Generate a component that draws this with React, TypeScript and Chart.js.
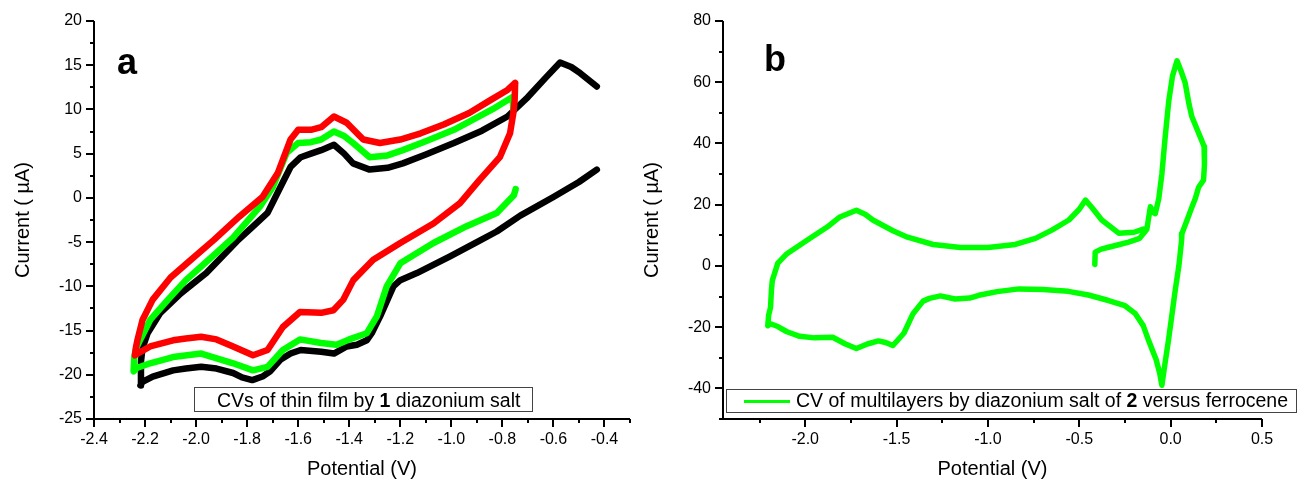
import React, { useEffect, useRef } from 'react';
import { Chart, registerables } from 'chart.js';

Chart.register(...registerables);

const FONT = '"Liberation Sans", Arial, Helvetica, sans-serif';
const H = 479;

// ---------------- Panel a ----------------
const potentialTicksA = [-2.4, -2.2, -2.0, -1.8, -1.6, -1.4, -1.2, -1.0, -0.8, -0.6, -0.4];
const potentialMinorA = [-2.3, -2.1, -1.9, -1.7, -1.5, -1.3, -1.1, -0.9, -0.7, -0.5, -0.3];
const currentTicksA = [-25, -20, -15, -10, -5, 0, 5, 10, 15, 20];
const currentMinorA = [-22.5, -17.5, -12.5, -7.5, -2.5, 2.5, 7.5, 12.5, 17.5];

// [potential (V), current (µA)]
const scanRedA: [number, number][] = [
  [-0.75, 13.0], [-0.752, 11.0], [-0.757, 9.6], [-0.77, 7.3], [-0.81, 4.6], [-0.89, 2.0],
  [-0.966, -0.6], [-1.07, -2.9], [-1.2, -5.1], [-1.306, -7.0], [-1.384, -9.3], [-1.423, -11.5],
  [-1.462, -12.7], [-1.51, -13.0], [-1.593, -12.9], [-1.66, -14.6], [-1.72, -17.2], [-1.777, -17.8],
  [-1.855, -16.8], [-1.92, -16.0], [-1.98, -15.7], [-2.04, -15.9], [-2.09, -16.1], [-2.18, -16.8],
  [-2.23, -17.6], [-2.24, -17.8], [-2.235, -16.8], [-2.23, -16.1], [-2.21, -13.8], [-2.17, -11.5],
  [-2.1, -9.0], [-2.02, -7.0], [-1.93, -4.75], [-1.83, -2.1], [-1.74, 0.1], [-1.68, 2.8],
  [-1.63, 6.6], [-1.6, 7.7], [-1.55, 7.7], [-1.51, 8.0], [-1.46, 9.2], [-1.41, 8.5],
  [-1.345, 6.6], [-1.28, 6.2], [-1.2, 6.6], [-1.12, 7.3], [-1.03, 8.3], [-0.93, 9.6],
  [-0.85, 11.0], [-0.78, 12.2], [-0.75, 13.0],
];

const scanGreenA: [number, number][] = [
  [-0.748, 1.0], [-0.755, 0.3], [-0.822, -1.7], [-0.94, -3.2], [-1.07, -5.1], [-1.2, -7.4],
  [-1.253, -10.0], [-1.292, -13.4], [-1.331, -15.3], [-1.4, -16.0], [-1.45, -16.6], [-1.51, -16.4],
  [-1.593, -16.0], [-1.66, -17.2], [-1.72, -19.1], [-1.777, -19.5], [-1.855, -18.7], [-1.98, -17.6],
  [-2.09, -18.0], [-2.18, -18.7], [-2.23, -19.2], [-2.245, -19.6], [-2.242, -18.0], [-2.235, -17.0],
  [-2.22, -16.1], [-2.18, -13.8], [-2.11, -11.5], [-2.04, -9.3], [-1.92, -6.2], [-1.855, -4.5],
  [-1.75, -1.0], [-1.7, 1.2], [-1.645, 5.1], [-1.6, 6.2], [-1.55, 6.3], [-1.51, 6.6],
  [-1.46, 7.5], [-1.42, 7.0], [-1.385, 6.2], [-1.32, 4.6], [-1.25, 4.8], [-1.19, 5.4],
  [-1.1, 6.4], [-0.99, 7.7], [-0.84, 10.0], [-0.76, 11.4], [-0.757, 10.0],
];

const scanBlackA: [number, number][] = [
  [-0.43, 3.2], [-0.5, 1.8], [-0.6, 0.1], [-0.73, -2.0], [-0.822, -3.8], [-0.9, -5.0],
  [-1.005, -6.6], [-1.135, -8.5], [-1.2, -9.3], [-1.227, -10.0], [-1.25, -11.5], [-1.279, -13.4],
  [-1.31, -15.2], [-1.331, -16.1], [-1.37, -16.6], [-1.41, -16.8], [-1.46, -17.6], [-1.51, -17.4],
  [-1.59, -17.2], [-1.63, -17.6], [-1.67, -18.3], [-1.71, -19.6], [-1.74, -20.2], [-1.78, -20.6],
  [-1.82, -20.3], [-1.855, -19.8], [-1.92, -19.3], [-1.98, -19.1], [-2.04, -19.3], [-2.09, -19.5],
  [-2.17, -20.2], [-2.21, -20.8], [-2.218, -21.2], [-2.216, -18.5], [-2.21, -17.0], [-2.19, -15.3],
  [-2.14, -13.0], [-2.06, -10.8], [-1.96, -8.5], [-1.84, -4.9], [-1.78, -3.3], [-1.72, -1.7],
  [-1.67, 1.2], [-1.63, 3.5], [-1.59, 4.6], [-1.55, 5.0], [-1.51, 5.4], [-1.46, 6.0],
  [-1.42, 5.0], [-1.385, 3.9], [-1.32, 3.2], [-1.25, 3.4], [-1.19, 3.9], [-1.1, 4.9],
  [-0.99, 6.2], [-0.88, 7.6], [-0.78, 9.2], [-0.7, 11.4], [-0.63, 13.6], [-0.574, 15.3],
  [-0.53, 14.8], [-0.495, 14.1], [-0.43, 12.6],
];

// ---------------- Panel b ----------------
const potentialTicksB = [-2.0, -1.5, -1.0, -0.5, 0.0, 0.5];
const potentialMinorB = [-2.25, -1.75, -1.25, -0.75, -0.25, 0.25];
const currentTicksB = [-40, -20, 0, 20, 40, 60, 80];
const currentMinorB = [-50, -30, -10, 10, 30, 50, 70];

const scanB: [number, number][] = [
  [-0.415, 0.5], [-0.413, 4.5], [-0.38, 5.5], [-0.34, 6.1], [-0.28, 7.0], [-0.23, 7.8],
  [-0.17, 9.0], [-0.13, 12.0], [-0.111, 19.3], [-0.095, 17.5], [-0.084, 17.1], [-0.065, 22.0],
  [-0.048, 30.0], [-0.03, 42.0], [-0.01, 54.0], [0.01, 62.0], [0.035, 67.0], [0.055, 64.0],
  [0.08, 59.7], [0.1, 53.0], [0.116, 48.8], [0.135, 46.0], [0.153, 43.4], [0.17, 41.0],
  [0.183, 39.0], [0.185, 33.0], [0.18, 28.0], [0.153, 25.7], [0.135, 22.0], [0.115, 19.0],
  [0.09, 15.0], [0.062, 10.6], [0.06, 8.4], [0.045, 0.0], [0.025, -8.0], [0.007, -16.0],
  [-0.012, -24.3], [-0.03, -31.5], [-0.048, -39.0], [-0.06, -35.0], [-0.08, -30.5], [-0.1, -27.5],
  [-0.121, -24.3], [-0.15, -19.5], [-0.193, -15.6], [-0.25, -13.0], [-0.34, -11.3], [-0.45, -9.5],
  [-0.56, -8.3], [-0.7, -7.7], [-0.83, -7.5], [-0.95, -8.4], [-1.05, -9.6], [-1.1, -10.5],
  [-1.18, -10.8], [-1.26, -9.8], [-1.32, -10.6], [-1.355, -11.5], [-1.41, -15.6], [-1.46, -22.0],
  [-1.52, -26.0], [-1.56, -25.0], [-1.6, -24.5], [-1.66, -25.5], [-1.72, -27.0], [-1.78, -25.5],
  [-1.85, -23.3], [-1.95, -23.5], [-2.03, -23.0], [-2.1, -21.5], [-2.15, -19.8], [-2.19, -18.9],
  [-2.205, -19.5], [-2.2, -16.0], [-2.19, -13.6], [-2.185, -8.0], [-2.18, -4.7], [-2.15, 0.9],
  [-2.1, 4.0], [-1.99, 8.4], [-1.88, 12.7], [-1.81, 16.0], [-1.72, 18.2], [-1.67, 16.8],
  [-1.63, 15.0], [-1.52, 11.5], [-1.44, 9.4], [-1.3, 7.0], [-1.15, 6.0], [-1.0, 6.0],
  [-0.85, 7.0], [-0.74, 9.0], [-0.65, 11.7], [-0.557, 15.0], [-0.5, 18.5], [-0.466, 21.5],
  [-0.43, 19.0], [-0.377, 15.0], [-0.284, 10.7], [-0.2, 11.0], [-0.15, 12.0],
];

// ---------------- chart building ----------------
interface Series { data: [number, number][]; color: string; width: number; }
interface Spec {
  width: number;
  plotLeft: number; plotRight: number; plotTop: number; plotBottom: number;
  xMin: number; xMax: number; yMin: number; yMax: number;
  xTicks: number[]; xMinor: number[]; yTicks: number[]; yMinor: number[];
  xDecimals: number; yTitlePad: number;
  series: Series[];
  letter: string; letterX: number; letterY: number;
  drawLegend: (ctx: CanvasRenderingContext2D) => void;
}

function drawRich(ctx: CanvasRenderingContext2D, parts: [string, boolean][], x: number, y: number, size: number) {
  let cx = x;
  ctx.fillStyle = '#000';
  ctx.textAlign = 'left';
  ctx.textBaseline = 'alphabetic';
  for (const [t, b] of parts) {
    ctx.font = `${b ? 'bold ' : ''}${size}px ${FONT}`;
    ctx.fillText(t, cx, y);
    cx += ctx.measureText(t).width;
  }
}

function framePlugin(spec: Spec) {
  return {
    id: 'frame',
    afterDraw(chart: any) {
      const { ctx, chartArea: ca } = chart;
      const xs = chart.scales.x;
      const ys = chart.scales.y;
      ctx.save();
      ctx.strokeStyle = '#000';
      ctx.lineWidth = 2;
      ctx.lineCap = 'butt';
      ctx.lineJoin = 'miter';
      ctx.beginPath();
      ctx.moveTo(ca.left, ca.top);
      ctx.lineTo(ca.left, ca.bottom);
      ctx.lineTo(ca.right, ca.bottom);
      ctx.stroke();
      ctx.beginPath();
      const xt = (vals: number[], len: number) => {
        for (const v of vals) {
          const p = Math.round(xs.getPixelForValue(v));
          ctx.moveTo(p, ca.bottom);
          ctx.lineTo(p, ca.bottom + len);
        }
      };
      const yt = (vals: number[], len: number) => {
        for (const v of vals) {
          const p = Math.round(ys.getPixelForValue(v));
          ctx.moveTo(ca.left, p);
          ctx.lineTo(ca.left - len, p);
        }
      };
      xt(spec.xTicks, 8);
      xt(spec.xMinor, 4);
      yt(spec.yTicks, 8);
      yt(spec.yMinor, 4);
      ctx.stroke();

      ctx.fillStyle = '#000';
      ctx.font = `bold 36px ${FONT}`;
      ctx.textAlign = 'left';
      ctx.textBaseline = 'alphabetic';
      ctx.fillText(spec.letter, spec.letterX, spec.letterY);

      spec.drawLegend(ctx);
      ctx.restore();
    },
  };
}

function lineDataset(data: [number, number][], color: string, width: number) {
  return {
    data: data.map(([x, y]) => ({ x, y })),
    showLine: true,
    borderColor: color,
    backgroundColor: color,
    borderWidth: width,
    pointRadius: 0,
    pointHoverRadius: 0,
    tension: 0,
    fill: false,
    borderJoinStyle: 'round',
    borderCapStyle: 'round',
  };
}

function buildConfig(spec: Spec): any {
  const tickFont = { family: FONT, size: 16 };
  const titleFont = { family: FONT, size: 20 };
  return {
    type: 'scatter',
    data: { datasets: spec.series.map((s) => lineDataset(s.data, s.color, s.width)) },
    options: {
      animation: false,
      responsive: false,
      maintainAspectRatio: false,
      devicePixelRatio: 1,
      events: [],
      layout: { padding: { left: 0, top: spec.plotTop, right: spec.width - spec.plotRight, bottom: 0 } },
      plugins: { legend: { display: false }, tooltip: { enabled: false }, title: { display: false } },
      scales: {
        x: {
          type: 'linear',
          position: 'bottom',
          min: spec.xMin,
          max: spec.xMax,
          afterBuildTicks: (s: any) => { s.ticks = spec.xTicks.map((v) => ({ value: v })); },
          afterFit: (s: any) => { s.height = H - spec.plotBottom; },
          grid: { display: false, drawTicks: true, tickLength: 8 },
          border: { display: false },
          ticks: {
            font: tickFont, color: '#000', padding: 3, maxRotation: 0, autoSkip: false,
            callback: (v: any) => Number(v).toFixed(spec.xDecimals),
          },
          title: { display: true, text: 'Potential (V)', font: titleFont, color: '#000', padding: { top: 0, bottom: -2 } },
        },
        y: {
          type: 'linear',
          position: 'left',
          min: spec.yMin,
          max: spec.yMax,
          afterBuildTicks: (s: any) => { s.ticks = spec.yTicks.map((v) => ({ value: v })); },
          afterFit: (s: any) => { s.width = spec.plotLeft; },
          grid: { display: false, drawTicks: true, tickLength: 8 },
          border: { display: false },
          ticks: { font: tickFont, color: '#000', padding: 4, autoSkip: false, callback: (v: any) => String(v) },
          title: { display: true, text: 'Current ( µA)', font: titleFont, color: '#000', padding: { top: spec.yTitlePad, bottom: 0 } },
        },
      },
    },
    plugins: [framePlugin(spec)],
  };
}

const specA: Spec = {
  width: 640,
  plotLeft: 94, plotRight: 630, plotTop: 21, plotBottom: 419,
  xMin: -2.4, xMax: -0.3, yMin: -25, yMax: 20,
  xTicks: potentialTicksA, xMinor: potentialMinorA, yTicks: currentTicksA, yMinor: currentMinorA,
  xDecimals: 1, yTitlePad: 11,
  series: [
    { data: scanRedA, color: '#ff0000', width: 6.5 },
    { data: scanGreenA, color: '#00ff00', width: 6.5 },
    { data: scanBlackA, color: '#000000', width: 6.5 },
  ],
  letter: 'a', letterX: 117, letterY: 74,
  drawLegend: (ctx) => {
    ctx.fillStyle = '#fff';
    ctx.fillRect(194.5, 387.5, 338, 24);
    ctx.strokeStyle = '#444';
    ctx.lineWidth = 1;
    ctx.strokeRect(194.5, 387.5, 338, 24);
    drawRich(ctx, [['CVs of thin film by ', false], ['1', true], [' diazonium salt', false]], 217, 407, 19.5);
  },
};

const specB: Spec = {
  width: 659,
  plotLeft: 83, plotRight: 622, plotTop: 21, plotBottom: 419,
  xMin: -2.45, xMax: 0.5, yMin: -50, yMax: 80,
  xTicks: potentialTicksB, xMinor: potentialMinorB, yTicks: currentTicksB, yMinor: currentMinorB,
  xDecimals: 1, yTitlePad: 0,
  series: [{ data: scanB, color: '#00ff00', width: 5.5 }],
  letter: 'b', letterX: 124, letterY: 71,
  drawLegend: (ctx) => {
    ctx.fillStyle = '#fff';
    ctx.fillRect(86.5, 389.5, 570, 23);
    ctx.strokeStyle = '#444';
    ctx.lineWidth = 1;
    ctx.strokeRect(86.5, 389.5, 570, 23);
    ctx.strokeStyle = '#00ff00';
    ctx.lineWidth = 3;
    ctx.beginPath();
    ctx.moveTo(104, 401.5);
    ctx.lineTo(150, 401.5);
    ctx.stroke();
    drawRich(ctx, [['CV of multilayers by diazonium salt of ', false], ['2', true], [' versus ferrocene', false]], 156, 407, 19.5);
  },
};

function CVPanel({ spec, left }: { spec: Spec; left: number }) {
  const ref = useRef<HTMLCanvasElement>(null);
  useEffect(() => {
    const canvas = ref.current;
    if (!canvas) return;
    const chart = new Chart(canvas, buildConfig(spec));
    return () => chart.destroy();
  }, [spec]);
  return (
    <canvas
      ref={ref}
      width={spec.width}
      height={H}
      style={{ position: 'absolute', left, top: 0, width: spec.width, height: H }}
    />
  );
}

export default function App() {
  return (
    <div style={{ position: 'absolute', left: 0, top: 0, width: 1299, height: H, overflow: 'hidden', background: '#fff' }}>
      <CVPanel spec={specA} left={0} />
      <CVPanel spec={specB} left={640} />
    </div>
  );
}
